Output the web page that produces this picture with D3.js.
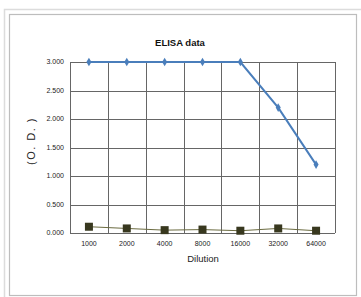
<!DOCTYPE html>
<html>
<head>
<meta charset="utf-8">
<script src="https://cdn.jsdelivr.net/npm/d3@7"></script>
<style>
  body { margin: 0; background: #fff; }
  text { font-family: "Liberation Sans", Arial, sans-serif; }
</style>
</head>
<body>
<div id="chart"></div>
<script>
// chart values
const dilutions = ["1000", "2000", "4000", "8000", "16000", "32000", "64000"];
const sampleOD = [3.0, 3.0, 3.0, 3.0, 3.0, 2.2, 1.2];
const controlOD = [0.11, 0.08, 0.05, 0.06, 0.04, 0.08, 0.04];
const yTicks = [0, 0.5, 1.0, 1.5, 2.0, 2.5, 3.0];

const width = 361, height = 297;
const margin = { top: 62, right: 26, bottom: 64, left: 70 };

const svg = d3.select("#chart").append("svg")
    .attr("width", width)
    .attr("height", height);

// outer frames
svg.append("rect")
    .attr("x", 4.5).attr("y", 9.5)
    .attr("width", 370).attr("height", 300)
    .attr("fill", "none").attr("stroke", "#dcdcdc").attr("stroke-width", 1.5);
svg.append("rect")
    .attr("x", 9.5).attr("y", 14.5)
    .attr("width", 347).attr("height", 281)
    .attr("fill", "#fff").attr("stroke", "#bdbdbd").attr("stroke-width", 1.2);

const x = d3.scaleBand()
    .domain(dilutions)
    .range([margin.left, width - margin.right]);

const y = d3.scaleLinear()
    .domain([0, 3])
    .range([height - margin.bottom, margin.top]);

// horizontal grid
svg.append("g")
    .attr("stroke", "#666")
    .attr("stroke-width", 1)
    .selectAll("line")
    .data(yTicks)
    .join("line")
    .attr("x1", margin.left).attr("x2", width - margin.right)
    .attr("y1", d => Math.round(y(d)) + 0.5).attr("y2", d => Math.round(y(d)) + 0.5);

// vertical grid at category boundaries
const bounds = dilutions.map(d => x(d)).concat([x.range()[1]]);
svg.append("g")
    .attr("stroke", "#666")
    .attr("stroke-width", 1)
    .selectAll("line")
    .data(bounds)
    .join("line")
    .attr("x1", d => Math.round(d) + 0.5).attr("x2", d => Math.round(d) + 0.5)
    .attr("y1", margin.top).attr("y2", height - margin.bottom);

// y tick labels
svg.append("g")
    .selectAll("text")
    .data(yTicks)
    .join("text")
    .attr("x", margin.left - 6)
    .attr("y", d => y(d))
    .attr("dy", "0.35em")
    .attr("text-anchor", "end")
    .attr("font-size", 7)
    .attr("fill", "#222")
    .text(d => d3.format(".3f")(d));

// x tick labels
svg.append("g")
    .selectAll("text")
    .data(dilutions)
    .join("text")
    .attr("x", d => x(d) + x.bandwidth() / 2)
    .attr("y", height - margin.bottom + 13)
    .attr("text-anchor", "middle")
    .attr("font-size", 7)
    .attr("fill", "#222")
    .text(d => d);

// titles
svg.append("text")
    .attr("x", 180).attr("y", 46)
    .attr("text-anchor", "middle")
    .attr("font-size", 9.5).attr("font-weight", "bold")
    .attr("fill", "#111")
    .text("ELISA data");

svg.append("text")
    .attr("x", 203).attr("y", 262)
    .attr("text-anchor", "middle")
    .attr("font-size", 9.5)
    .attr("fill", "#222")
    .text("Dilution");

svg.append("text")
    .attr("transform", "translate(35,141) rotate(-90)")
    .attr("text-anchor", "middle")
    .attr("font-size", 11)
    .attr("letter-spacing", 1.5)
    .attr("fill", "#222")
    .text("(O. D. )");

const cx = d => x(d) + x.bandwidth() / 2;

const seriesLine = d3.line()
    .x((d, i) => cx(dilutions[i]))
    .y(d => y(d));

// control series
svg.append("path")
    .datum(controlOD)
    .attr("fill", "none")
    .attr("stroke", "#6b6b40")
    .attr("stroke-width", 1)
    .attr("d", seriesLine);

svg.append("g")
    .selectAll("rect")
    .data(controlOD)
    .join("rect")
    .attr("x", (d, i) => cx(dilutions[i]) - 4)
    .attr("y", d => y(d) - 4)
    .attr("width", 8).attr("height", 8)
    .attr("fill", "#38381f");

// sample series
svg.append("path")
    .datum(sampleOD)
    .attr("fill", "none")
    .attr("stroke", "#4a7ebb")
    .attr("stroke-width", 2)
    .attr("d", seriesLine);

svg.append("g")
    .selectAll("path")
    .data(sampleOD)
    .join("path")
    .attr("d", d3.symbol(d3.symbolDiamond, 22))
    .attr("transform", (d, i) => `translate(${cx(dilutions[i])},${y(d)})`)
    .attr("fill", "#4a7ebb");
</script>
</body>
</html>
